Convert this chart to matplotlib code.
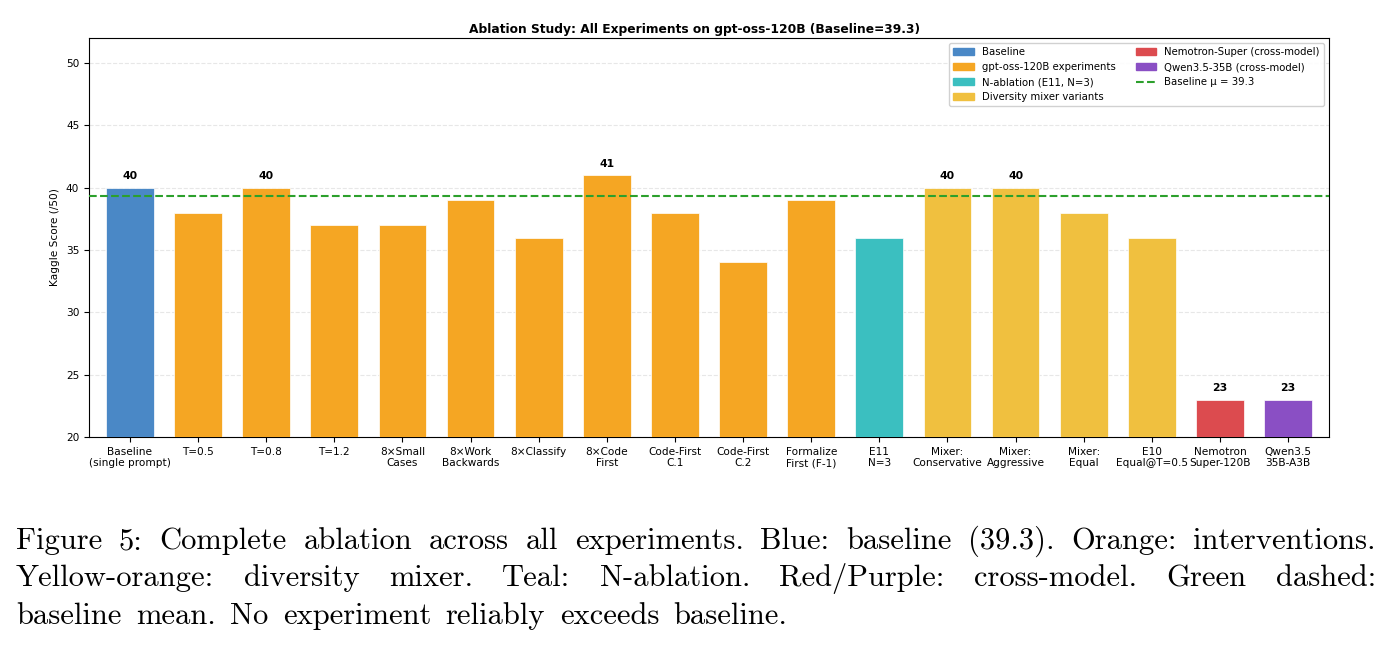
import numpy as np
import matplotlib.pyplot as plt
from matplotlib.patches import Patch
from matplotlib.lines import Line2D
plt.switch_backend('Agg')

labels = ['Baseline\n(single prompt)', 'T=0.5', 'T=0.8', 'T=1.2', '8×Small\nCases',
          '8×Work\nBackwards', '8×Classify', '8×Code\nFirst', 'Code-First\nC.1',
          'Code-First\nC.2', 'Formalize\nFirst (F-1)', 'E11\nN=3', 'Mixer:\nConservative',
          'Mixer:\nAggressive', 'Mixer:\nEqual', 'E10\nEqual@T=0.5', 'Nemotron\nSuper-120B',
          'Qwen3.5\n35B-A3B']
scores = [40, 38, 40, 37, 37, 39, 36, 41, 38, 34, 39, 36, 40, 40, 38, 36, 23, 23]
groups = ['base', 'exp', 'exp', 'exp', 'exp', 'exp', 'exp', 'exp', 'exp', 'exp', 'exp',
          'nabl', 'mix', 'mix', 'mix', 'mix', 'nemo', 'qwen']
baseline_mean = 39.3

colors = {'base': '#4a88c6', 'exp': '#f5a623', 'nabl': '#3bbfc0', 'mix': '#f0c03f',
          'nemo': '#dc4b4f', 'qwen': '#8a4fc4'}
legend_names = [('base', 'Baseline'), ('exp', 'gpt-oss-120B experiments'),
                ('nabl', 'N-ablation (E11, N=3)'), ('mix', 'Diversity mixer variants'),
                ('nemo', 'Nemotron-Super (cross-model)'), ('qwen', 'Qwen3.5-35B (cross-model)')]

caption = [
    "Figure 5: Complete ablation across all experiments. Blue: baseline (39.3). Orange: interventions.",
    "Yellow-orange: diversity mixer. Teal: N-ablation. Red/Purple: cross-model. Green dashed:",
    "baseline mean. No experiment reliably exceeds baseline.",
]

W, H = 1391, 650
fig = plt.figure(figsize=(W / 100, H / 100), dpi=100)
ax = fig.add_axes([89 / W, 1 - 437 / H, (1329 - 89) / W, (437 - 38) / H])

x = np.arange(len(scores))
ax.bar(x, scores, width=0.7, color=[colors[g] for g in groups],
       edgecolor='white', linewidth=0.5, zorder=3)
for xi, s in zip(x, scores):
    if s >= 40 or s < 25:
        ax.text(xi, s + 0.5, str(s), ha='center', va='bottom', fontsize=7.8, fontweight='bold')

ax.axhline(baseline_mean, color='#2ca02c', linestyle='--', linewidth=1.5, zorder=4)
ax.set_xticks(x)
ax.set_xticklabels(labels, fontsize=7.6)
ax.tick_params(axis='y', labelsize=7.6)
ax.set_ylim(20, 52)
ax.set_xlim(-0.6, 17.6)
ax.set_yticks([20, 25, 30, 35, 40, 45, 50])
ax.set_ylabel('Kaggle Score (/50)', fontsize=7.6)
fig.text(694.5 / W, 1 - 33 / H, 'Ablation Study: All Experiments on gpt-oss-120B (Baseline=39.3)',
         ha='center', va='baseline', fontsize=8.8, fontweight='bold')
ax.yaxis.grid(True, linestyle='--', alpha=0.3, zorder=0)
ax.set_axisbelow(True)

handles = [Patch(color=colors[k], label=n) for k, n in legend_names]
handles.append(Line2D([0], [0], color='#2ca02c', linestyle='--', linewidth=1.5,
                      label='Baseline μ = %.1f' % baseline_mean))
ax.legend(handles=handles, ncol=2, loc='upper right', fontsize=7.3, framealpha=0.9,
          columnspacing=2.0)

# caption, justified like the LaTeX page
renderer = fig.canvas.get_renderer()
x0, x1 = 16, 1376
ys = [549, 586.5, 624]
for i, line in enumerate(caption):
    words = line.split(' ')
    texts = [fig.text(0, 0, w, fontsize=22, family='cmr10') for w in words]
    widths = [t.get_window_extent(renderer).width for t in texts]
    if i < len(caption) - 1:
        gap = (x1 - x0 - sum(widths)) / (len(words) - 1)
    else:
        gap = 14.5
    cx = x0
    for t, w in zip(texts, widths):
        t.set_position((cx / W, 1 - ys[i] / H))
        cx += w + gap

plt.savefig('out.png', dpi=100)
